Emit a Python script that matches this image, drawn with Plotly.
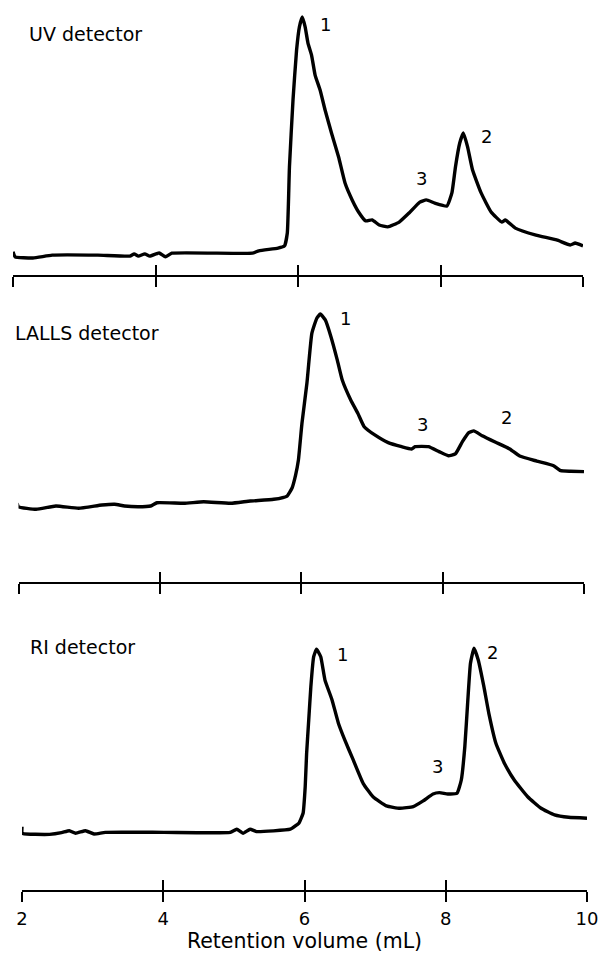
import plotly.graph_objects as go

# ---------------- data ----------------
tick_vals = [2, 4, 6, 8, 10]
tick_text = ["2", "4", "6", "8", "10"]
x_title = "Retention volume (mL)"
panel_names = ["UV detector", "LALLS detector", "RI detector"]

uv_x = [2.00, 2.03, 2.28, 2.55, 3.19, 3.64, 3.70, 3.76, 3.85, 3.92, 4.05, 4.14, 4.23,
        5.36, 5.45, 5.72, 5.81, 5.85, 5.88, 5.93, 5.98, 6.02, 6.06, 6.10, 6.14, 6.19,
        6.24, 6.31, 6.38, 6.47, 6.57, 6.66, 6.76, 6.85, 6.95, 7.04, 7.14, 7.26, 7.42,
        7.56, 7.71, 7.80, 7.92, 8.09, 8.16, 8.21, 8.27, 8.32, 8.38, 8.45, 8.57, 8.71,
        8.86, 8.91, 9.05, 9.34, 9.63, 9.82, 9.89, 10.00]
uv_y = [2.6, 0.5, 0.0, 1.2, 1.2, 0.8, 1.7, 0.8, 1.7, 0.8, 2.1, 0.5, 2.0,
        2.0, 3.0, 4.1, 5.0, 10.4, 37.8, 65.6, 86.3, 95.9, 100.0, 95.9, 89.2, 84.2,
        75.9, 69.7, 61.4, 51.9, 41.9, 31.1, 24.1, 19.1, 15.4, 15.8, 13.7, 12.9, 14.9,
        18.7, 23.2, 24.1, 22.8, 21.6, 27.0, 37.8, 47.7, 51.9, 46.1, 36.5, 27.0, 19.1,
        14.9, 15.8, 12.4, 9.5, 7.5, 5.4, 6.2, 5.0]

lalls_x = [1.98, 2.00, 2.25, 2.53, 2.85, 3.18, 3.36, 3.50, 3.69, 3.87, 3.96, 4.34, 4.62,
           5.00, 5.28, 5.61, 5.80, 5.87, 5.92, 5.96, 6.01, 6.08, 6.15, 6.22, 6.27, 6.34,
           6.42, 6.51, 6.58, 6.70, 6.80, 6.89, 7.04, 7.23, 7.42, 7.56, 7.61, 7.80, 7.95,
           8.08, 8.18, 8.28, 8.37, 8.44, 8.56, 8.75, 8.95, 9.09, 9.33, 9.57, 9.67, 9.81,
           10.00]
lalls_y = [1.4, -0.4, -1.7, 0.0, -1.2, 0.5, 0.9, 0.0, -0.4, 0.0, 1.7, 1.4, 2.2,
           1.4, 2.6, 3.5, 5.2, 9.4, 16.1, 24.0, 43.1, 63.9, 89.9, 97.8, 100.0, 96.9,
           88.2, 76.0, 65.6, 55.2, 48.3, 41.3, 37.0, 33.0, 30.9, 29.7, 30.9, 30.9, 28.3,
           26.2, 27.1, 33.5, 38.2, 39.1, 36.6, 33.2, 29.7, 26.0, 23.4, 21.0, 18.4, 18.1,
           17.9]

ri_x = [2.00, 2.005, 2.39, 2.56, 2.67, 2.76, 2.90, 3.02, 3.18, 4.01, 4.95, 5.04, 5.13,
        5.23, 5.32, 5.80, 5.89, 5.92, 5.98, 6.01, 6.03, 6.06, 6.09, 6.13, 6.17, 6.23,
        6.29, 6.39, 6.48, 6.57, 6.69, 6.83, 6.97, 7.16, 7.35, 7.54, 7.68, 7.82, 7.91,
        8.03, 8.16, 8.22, 8.27, 8.31, 8.35, 8.40, 8.46, 8.54, 8.61, 8.71, 8.83, 8.97,
        9.16, 9.35, 9.54, 9.74, 10.00]
ri_y = [2.9, -0.7, -1.3, -0.4, 0.7, -0.7, 0.7, -1.1, -0.2, -0.2, -0.2, 1.5, -0.7,
        1.5, 0.2, 1.5, 3.8, 4.7, 10.2, 24.7, 42.8, 61.0, 79.1, 95.4, 99.5, 95.4,
        82.7, 71.9, 59.2, 50.1, 39.2, 26.5, 19.2, 14.2, 12.9, 13.8, 16.9, 20.7, 21.4,
        20.7, 21.1, 28.3, 46.4, 70.1, 91.8, 100.0, 93.6, 79.1, 64.6, 48.3, 37.4, 28.3,
        19.2, 12.9, 9.3, 8.0, 7.5]

peak_names = ["1", "2", "3"]
uv_peak_x = [6.39, 8.64, 7.73]
uv_peak_y = [96.7, 50.3, 33.1]
lalls_peak_x = [6.62, 8.90, 7.71]
lalls_peak_y = [97.8, 46.2, 42.7]
ri_peak_x = [6.54, 8.66, 7.89]
ri_peak_y = [96.7, 97.8, 35.5]

# ---------------- figure ----------------
FONT = "DejaVu Sans, Arial, sans-serif"
W, H = 602, 953

panels = [
    dict(x=uv_x, y=uv_y, px=uv_peak_x, py=uv_peak_y, xs="x", ys="y",
         xdom=[13, 583], ydom=[0, 275], yrange=[-7.05, 107.05], label_xy=(27, 34)),
    dict(x=lalls_x, y=lalls_y, px=lalls_peak_x, py=lalls_peak_y, xs="x2", ys="y2",
         xdom=[18.5, 584], ydom=[295, 581.7], yrange=[-39.43, 109.9], label_xy=(13, 333)),
    dict(x=ri_x, y=ri_y, px=ri_peak_x, py=ri_peak_y, xs="x3", ys="y3",
         xdom=[22, 587], ydom=[610, 890], yrange=[-31.6, 120.85], label_xy=(28, 647)),
]

fig = go.Figure()
annotations = []
layout_axes = {}

for i, p in enumerate(panels):
    n = i + 1
    sfx = "" if n == 1 else str(n)
    fig.add_trace(go.Scatter(
        x=p["x"], y=p["y"], xaxis=p["xs"], yaxis=p["ys"], mode="lines",
        line=dict(color="black", width=3.4, shape="spline", smoothing=0.4),
        showlegend=False, hoverinfo="skip"))
    # transparent copy on the overlay axis (inside half of the crossing ticks)
    fig.add_trace(go.Scatter(
        x=p["x"], y=p["y"], xaxis="x" + str(n + 3), yaxis=p["ys"], mode="lines",
        line=dict(color="rgba(0,0,0,0)", width=0), showlegend=False, hoverinfo="skip"))

    xdom = [p["xdom"][0] / W, p["xdom"][1] / W]
    ydom = [1 - p["ydom"][1] / H, 1 - p["ydom"][0] / H]
    is_bottom = (n == 3)
    layout_axes["xaxis" + sfx] = dict(
        domain=xdom, anchor="y" + sfx, range=[2, 10], tickmode="array",
        tickvals=tick_vals, ticktext=tick_text, showticklabels=is_bottom,
        ticks="outside", ticklen=10, tickwidth=2, tickcolor="black",
        showline=True, linecolor="black", linewidth=2,
        showgrid=False, zeroline=False,
        tickfont=dict(family=FONT, size=18, color="black"),
        ticklabelstandoff=1,
        title=dict(text=x_title if is_bottom else "",
                   font=dict(family=FONT, size=20.5, color="black"), standoff=10),
        automargin=False, fixedrange=True)
    layout_axes["yaxis" + sfx] = dict(
        domain=ydom, anchor="x" + sfx, range=p["yrange"], visible=False,
        fixedrange=True)
    layout_axes["xaxis" + str(n + 3)] = dict(
        overlaying="x" + sfx, anchor="y" + sfx, range=[2, 10], tickmode="array",
        tickvals=tick_vals, showticklabels=False, ticks="inside", ticklen=10,
        tickwidth=2, tickcolor="black", showline=False, showgrid=False,
        zeroline=False, fixedrange=True)

    lx, ly = p["label_xy"]
    annotations.append(dict(
        text=panel_names[i], xref="paper", yref="paper", x=lx / W, y=1 - ly / H,
        xanchor="left", yanchor="middle", showarrow=False,
        font=dict(family=FONT, size=19, color="black")))
    for name, ax_, ay_ in zip(peak_names, p["px"], p["py"]):
        annotations.append(dict(
            text=name, xref=p["xs"], yref=p["ys"], x=ax_, y=ay_,
            xanchor="center", yanchor="middle", showarrow=False,
            font=dict(family=FONT, size=18, color="black")))

fig.update_layout(
    width=W, height=H, margin=dict(l=0, r=0, t=0, b=0),
    paper_bgcolor="white", plot_bgcolor="white",
    annotations=annotations, showlegend=False, **layout_axes)

# remove the browser's default 8px body margin so the figure fills the window
fig.write_html("out.html",
               config={"displayModeBar": False, "staticPlot": True},
               post_script="document.body.style.margin='0';document.body.style.overflow='hidden';")
